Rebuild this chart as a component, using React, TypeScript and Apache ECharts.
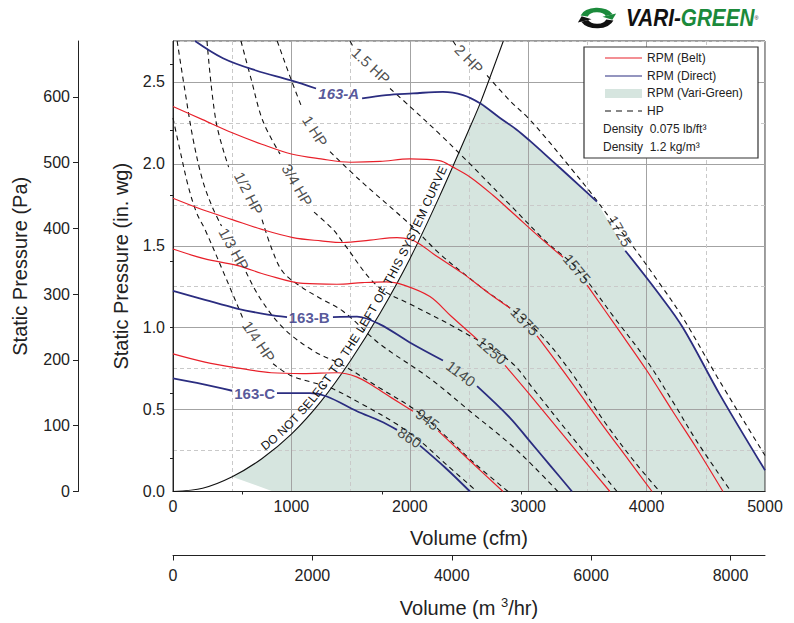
import React, { useEffect, useRef } from 'react';
import * as echarts from 'echarts';

const FONT = '"Liberation Sans", Arial, Helvetica, sans-serif';

// ---------- axes ----------
const CFM_MAX = 5000;
const INWG_MAX = 2.75;
const PA_PER_INWG = 249.089;
const M3H_PER_CFM = 1.69901;
const PA_MAX = INWG_MAX * PA_PER_INWG;
const M3_MAX = CFM_MAX * M3H_PER_CFM;
const inwgLabels = [0, 0.5, 1, 1.5, 2, 2.5];
const paLabels = [0, 100, 200, 300, 400, 500, 600];
const paMinorTicks = [50, 150, 250, 350, 450, 550, 650];
const m3Labels = [0, 2000, 4000, 6000, 8000];
const m3MinorTicks = [1000, 3000, 5000, 7000];

type Pt = [number, number] | null;

// ---------- belt drive RPM curves (cfm, in. wg); null = gap for the label ----------
const belt1575: Pt[] = [[0, 2.35], [250, 2.27], [500, 2.19], [750, 2.12], [1000, 2.06], [1250, 2.03], [1500, 2.01], [1750, 2.015], [2000, 2.03], [2250, 2.02], [2365, 1.98], [2508, 1.92], [2700, 1.81], [2870, 1.7], [3100, 1.55], [3294, 1.43], null, [3497, 1.26], [3750, 1.0], [4000, 0.74], [4220, 0.49], [4430, 0.255], [4645, 0]];
const belt1375: Pt[] = [[0, 1.79], [250, 1.72], [500, 1.66], [750, 1.6], [1013, 1.55], [1250, 1.53], [1436, 1.52], [1664, 1.535], [1892, 1.55], [2000, 1.54], [2086, 1.51], [2200, 1.45], [2450, 1.33], [2650, 1.22], [2846, 1.12], null, [3074, 0.95], [3317, 0.715], [3623, 0.41], [3850, 0.19], [4046, 0]];
const belt1250: Pt[] = [[0, 1.48], [270, 1.42], [540, 1.38], [800, 1.32], [1098, 1.27], [1385, 1.265], [1600, 1.275], [1800, 1.28], [1950, 1.26], [2170, 1.19], [2350, 1.07], [2568, 0.93], null, [2804, 0.77], [3015, 0.59], [3294, 0.345], [3500, 0.165], [3690, 0]];
const belt945: Pt[] = [[0, 0.84], [270, 0.79], [540, 0.755], [830, 0.725], [1098, 0.72], [1385, 0.725], [1550, 0.7], [1700, 0.64], [1850, 0.57], [2027, 0.49], null, [2240, 0.37], [2490, 0.2], [2787, 0]];

// ---------- direct drive RPM curves ----------
const direct1725: Pt[] = [[186, 2.75], [422, 2.645], [701, 2.57], [997, 2.51], [1208, 2.46], null, [1597, 2.4], [1800, 2.42], [2027, 2.43], [2280, 2.44], [2450, 2.42], [2593, 2.37], [2762, 2.28], [2900, 2.21], [3015, 2.14], [3200, 2.02], [3353, 1.92], [3580, 1.77], null, [3820, 1.47], [4100, 1.21], [4307, 1.0], [4620, 0.59], [5000, 0.13]];
const direct1140: Pt[] = [[0, 1.225], [270, 1.17], [540, 1.117], [800, 1.08], [963, 1.065], null, [1351, 1.065], [1554, 1.068], [1748, 1.02], [2000, 0.91], [2280, 0.8], null, [2568, 0.643], [2846, 0.45], [3004, 0.315], [3190, 0.155], [3370, 0]];
const direct860: Pt[] = [[0, 0.69], [250, 0.655], [500, 0.615], null, [878, 0.6], [1157, 0.6], [1300, 0.58], [1554, 0.49], [1750, 0.43], [1892, 0.376], null, [2086, 0.28], [2300, 0.145], [2508, 0]];

// ---------- horsepower curves ----------
const hp1_4: Pt[] = [[0, 2.28], [60, 2.08], [130, 1.86], [200, 1.7], [270, 1.6], [431, 1.33], [591, 1.056], null, [845, 0.78], [988, 0.71], [1182, 0.665], [1326, 0.635], [1605, 0.53], [1892, 0.41], [2100, 0.3], [2300, 0.17], [2568, 0]];
const hp1_3: Pt[] = [[35, 2.75], [100, 2.45], [170, 2.15], [250, 1.9], [330, 1.74], [410, 1.62], null, [617, 1.34], [735, 1.18], [929, 1.0], [1182, 0.86], [1436, 0.77], [1750, 0.63], [2061, 0.49], [2300, 0.34], [2550, 0.17], [2830, 0]];
const hp1_2: Pt[] = [[287, 2.75], [363, 2.26], [470, 1.98], null, [752, 1.66], [840, 1.47], [929, 1.34], [1080, 1.25], [1242, 1.18], [1436, 1.1], [1748, 0.9], [2170, 0.69], [2508, 0.49], [2846, 0.29], [3050, 0.15], [3250, 0]];
const hp3_4: Pt[] = [[574, 2.75], [659, 2.52], [760, 2.26], [904, 2.06], null, [1191, 1.705], [1351, 1.6], [1436, 1.52], [1723, 1.256], [2027, 1.135], [2399, 0.995], [2846, 0.795], [3050, 0.62], [3350, 0.35], [3750, 0]];
const hp1: Pt[] = [[880, 2.75], [1005, 2.5], [1080, 2.36], null, [1326, 2.075], [1579, 1.9], [2002, 1.63], [2255, 1.45], [2508, 1.3], [2652, 1.22], [2846, 1.12], [3100, 0.96], [3350, 0.74], [3650, 0.42], [3900, 0.18], [4110, 0]];
const hp1_5: Pt[] = [[1495, 2.75], [1525, 2.71], null, [1833, 2.46], [2002, 2.35], [2255, 2.18], [2508, 2.0], [2846, 1.75], [3159, 1.52], [3400, 1.37], [3750, 1.04], [4000, 0.8], [4220, 0.55], [4430, 0.3], [4713, 0]];
const hp2: Pt[] = [[2365, 2.75], [2392, 2.72], null, [2652, 2.54], [2846, 2.385], [3000, 2.28], [3159, 2.15], [3353, 1.98], [3522, 1.83], [3700, 1.66], [3860, 1.52], [4100, 1.28], [4307, 1.06], [4620, 0.67], [5000, 0.22]];

// ---------- system curve & Vari-Green region ----------
const sysCurve: [number, number][] = [[0, 0], [250, 0.02], [500, 0.09], [750, 0.2], [1000, 0.35], [1250, 0.55], [1500, 0.8], [1750, 1.09], [2000, 1.42], [2250, 1.8], [2500, 2.21], [2600, 2.38], [2790, 2.75]];
const vgStartX = 500;
const vgJoinX = 2600;
const vgCorner: [number, number] = [845, 0];
const sysText = 'DO NOT SELECT TO THE LEFT OF THIS SYSTEM CURVE';
const sysTextSpan = [800, 2350];

// ---------- curve labels: [text, cfm, in.wg, rotation] ----------
const rpmLabels: [string, number, number, number][] = [
  ['1725', 3775, 1.59, -60], ['1575', 3412, 1.36, -50], ['1375', 2973, 1.04, -46],
  ['1250', 2694, 0.86, -41], ['1140', 2432, 0.72, -37], ['945', 2150, 0.44, -37], ['860', 2000, 0.33, -34],
];
const modelLabels: [string, number, number, string][] = [
  ['163-A', 1400, 2.43, 'italic'], ['163-B', 1150, 1.06, 'normal'], ['163-C', 690, 0.6, 'normal'],
];
const hpLabels: [string, number, number, number][] = [
  ['1/4 HP', 726, 0.916, -56], ['1/3 HP', 515, 1.48, -61], ['1/2 HP', 640, 1.82, -63],
  ['3/4 HP', 1050, 1.87, -60], ['1 HP', 1200, 2.2, -57], ['1.5 HP', 1672, 2.6, -43], ['2 HP', 2500, 2.64, -46],
];

const RED = '#e8202a';
const NAVY = '#2b2d80';
const GREEN = '#1b8a3b';

const toLine = (pts: Pt[]) => pts.map((p) => (p === null ? ['-', '-'] : p));

function lineSeries(name: string, pts: Pt[], color: string, width: number, dashed = false) {
  return {
    type: 'line', name, data: toLine(pts), smooth: 0.35, showSymbol: false, symbol: 'none',
    connectNulls: false, silent: true, z: dashed ? 2 : 3,
    lineStyle: { color, width, type: dashed ? [5, 4] : 'solid' },
    xAxisIndex: 0, yAxisIndex: 0,
  };
}

function catmull(p0: number[], p1: number[], p2: number[], p3: number[], t: number) {
  const t2 = t * t, t3 = t2 * t;
  const f = (a: number, b: number, c: number, d: number) =>
    0.5 * (2 * b + (-a + c) * t + (2 * a - 5 * b + 4 * c - d) * t2 + (-a + 3 * b - 3 * c + d) * t3);
  return [f(p0[0], p1[0], p2[0], p3[0]), f(p0[1], p1[1], p2[1], p3[1])];
}

let measureCtx: CanvasRenderingContext2D | null = null;
const plain = (v: number) => String(v);

function buildOption() {
  const vgPolygon: [number, number][] = [
    ...sysCurve.filter((p) => p[0] >= vgStartX && p[0] <= vgJoinX),
    ...(direct1725.filter((p) => p !== null && p[0] > vgJoinX) as [number, number][]),
    [CFM_MAX, 0],
    vgCorner,
  ];

  const labelData: any[] = [];
  rpmLabels.forEach(([t, x, y, r]) =>
    labelData.push({ value: [x, y], label: { show: true, formatter: t, rotate: r, fontSize: 15, color: '#222' } }));
  modelLabels.forEach(([t, x, y, st]) =>
    labelData.push({ value: [x, y], label: { show: true, formatter: t, rotate: 0, fontSize: 15, fontWeight: 'bold', fontStyle: st, color: NAVY } }));
  hpLabels.forEach(([t, x, y, r]) =>
    labelData.push({ value: [x, y], label: { show: true, formatter: t, rotate: r, fontSize: 15, color: '#222' } }));

  const sysTextSeries = {
    type: 'custom', silent: true, z: 6, data: [[0, 0]], xAxisIndex: 0, yAxisIndex: 0,
    renderItem: (params: any, api: any) => {
      if (params.dataIndex !== 0) return null;
      const P = sysCurve.map((p) => api.coord(p));
      const D: number[][] = [];
      for (let i = 0; i < P.length - 1; i++) {
        const p0 = P[Math.max(0, i - 1)], p1 = P[i], p2 = P[i + 1], p3 = P[Math.min(P.length - 1, i + 2)];
        for (let k = 0; k < 24; k++) D.push(catmull(p0, p1, p2, p3, k / 24));
      }
      D.push(P[P.length - 1]);
      const cum = [0];
      for (let i = 1; i < D.length; i++) cum.push(cum[i - 1] + Math.hypot(D[i][0] - D[i - 1][0], D[i][1] - D[i - 1][1]));
      const sAtX = (px: number) => {
        for (let i = 1; i < D.length; i++) {
          if (D[i][0] >= px) {
            const f = (px - D[i - 1][0]) / (D[i][0] - D[i - 1][0] || 1);
            return cum[i - 1] + f * (cum[i] - cum[i - 1]);
          }
        }
        return cum[cum.length - 1];
      };
      const pointAt = (s: number) => {
        let i = 1;
        while (i < cum.length - 1 && cum[i] < s) i++;
        const seg = cum[i] - cum[i - 1] || 1;
        const f = (s - cum[i - 1]) / seg;
        const dx = D[i][0] - D[i - 1][0], dy = D[i][1] - D[i - 1][1];
        const len = Math.hypot(dx, dy) || 1;
        return { x: D[i - 1][0] + f * dx, y: D[i - 1][1] + f * dy, tx: dx / len, ty: dy / len };
      };
      const s0 = sAtX(api.coord([sysTextSpan[0], 0])[0]);
      const s1 = sAtX(api.coord([sysTextSpan[1], 0])[0]);
      const fs = 12;
      if (!measureCtx) measureCtx = document.createElement('canvas').getContext('2d');
      const ctx = measureCtx!;
      ctx.font = `${fs}px "Liberation Sans"`;
      const chars = sysText.split('');
      const ws = chars.map((c) => ctx.measureText(c).width);
      const total = ws.reduce((a, b) => a + b, 0);
      const gap = (s1 - s0 - total) / (chars.length - 1);
      let s = s0;
      const children: any[] = [];
      chars.forEach((c, i) => {
        const mid = s + ws[i] / 2;
        const p = pointAt(mid);
        const ang = Math.atan2(-p.ty, p.tx);
        const nx = p.ty, ny = -p.tx;
        const off = 8.5;
        if (c !== ' ') {
          children.push({
            type: 'text', x: p.x + nx * off, y: p.y + ny * off, rotation: ang,
            style: { text: c, fontSize: fs, fontFamily: FONT, fill: '#111', align: 'center', verticalAlign: 'middle' },
          });
        }
        s += ws[i] + gap;
      });
      return { type: 'group', children };
    },
  };

  const vgSeries = {
    type: 'custom', silent: true, z: -1, data: [[0, 0]], xAxisIndex: 0, yAxisIndex: 0,
    renderItem: (params: any, api: any) => {
      if (params.dataIndex !== 0) return null;
      return {
        type: 'polygon',
        shape: { points: vgPolygon.map((p) => api.coord(p)) },
        style: { fill: '#d6e5df', stroke: 'none' },
      };
    },
  };

  const axisText = { fontSize: 16, color: '#222', fontFamily: FONT };
  const nameText = { fontSize: 20, color: '#222', fontFamily: FONT };

  return {
    animation: false,
    textStyle: { fontFamily: FONT },
    grid: { left: 173, right: 29, top: 41, bottom: 129, show: true, borderColor: '#333', borderWidth: 1, backgroundColor: 'transparent' },
    xAxis: [
      {
        type: 'value', min: 0, max: CFM_MAX, interval: 1000, position: 'bottom',
        axisLine: { show: true, onZero: false, lineStyle: { color: '#222' } },
        axisTick: { show: false },
        axisLabel: { ...axisText, margin: 7, formatter: plain },
        splitLine: { show: true, lineStyle: { color: '#a3a3a3', width: 1 } },
        name: 'Volume (cfm)', nameLocation: 'middle', nameGap: 36, nameTextStyle: nameText,
      },
      {
        type: 'value', min: 0, max: CFM_MAX, interval: 500, position: 'bottom',
        axisLine: { show: false }, axisTick: { show: false }, axisLabel: { show: false },
        splitLine: { show: true, lineStyle: { color: ['rgba(0,0,0,0)', '#c9c9c9'], type: [4, 3], width: 1 } },
      },
      {
        type: 'value', min: 0, max: M3_MAX, position: 'bottom', offset: 64,
        axisLine: { show: true, onZero: false, lineStyle: { color: '#222' } },
        axisTick: { show: true, customValues: m3Labels, length: 5, lineStyle: { color: '#222' } },
        axisLabel: { ...axisText, customValues: m3Labels, margin: 12, formatter: plain },
        splitLine: { show: false },
        name: 'Volume (m {s|3}/hr)', nameLocation: 'middle', nameGap: 40,
        nameTextStyle: { ...nameText, rich: { s: { fontSize: 13, color: '#222', padding: [0, 0, 12, 0], fontFamily: FONT } } },
      },
      {
        type: 'value', min: 0, max: M3_MAX, position: 'bottom', offset: 64,
        axisLine: { show: false },
        axisTick: { show: true, customValues: m3MinorTicks, length: 3, lineStyle: { color: '#222' } },
        axisLabel: { show: false }, splitLine: { show: false },
      },
    ],
    yAxis: [
      {
        type: 'value', min: 0, max: INWG_MAX, interval: 0.5, position: 'left',
        axisLine: { show: true, onZero: false, lineStyle: { color: '#222' } },
        axisTick: { show: false },
        axisLabel: { ...axisText, customValues: inwgLabels, margin: 8, formatter: (v: number) => v.toFixed(1) },
        splitLine: { show: true, lineStyle: { color: '#a3a3a3', width: 1 } },
        name: 'Static Pressure (in. wg)', nameLocation: 'middle', nameGap: 42, nameTextStyle: nameText,
      },
      {
        type: 'value', min: 0, max: INWG_MAX, interval: 0.25, position: 'left',
        axisLine: { show: false }, axisTick: { show: false }, axisLabel: { show: false },
        splitLine: { show: true, lineStyle: { color: ['rgba(0,0,0,0)', '#c9c9c9'], type: [4, 3], width: 1 } },
      },
      {
        type: 'value', min: 0, max: PA_MAX, position: 'left', offset: 95,
        axisLine: { show: true, onZero: false, lineStyle: { color: '#222' } },
        axisTick: { show: true, customValues: paLabels, length: 5, lineStyle: { color: '#222' } },
        axisLabel: { ...axisText, customValues: paLabels, margin: 8, formatter: plain },
        splitLine: { show: false },
        name: 'Static Pressure (Pa)', nameLocation: 'middle', nameGap: 48, nameTextStyle: nameText,
      },
      {
        type: 'value', min: 0, max: PA_MAX, position: 'left', offset: 95,
        axisLine: { show: false },
        axisTick: { show: true, customValues: paMinorTicks, length: 3, lineStyle: { color: '#222' } },
        axisLabel: { show: false }, splitLine: { show: false },
      },
    ],
    series: [
      vgSeries,
      lineSeries('1/4 HP', hp1_4, '#111', 1.1, true),
      lineSeries('1/3 HP', hp1_3, '#111', 1.1, true),
      lineSeries('1/2 HP', hp1_2, '#111', 1.1, true),
      lineSeries('3/4 HP', hp3_4, '#111', 1.1, true),
      lineSeries('1 HP', hp1, '#111', 1.1, true),
      lineSeries('1.5 HP', hp1_5, '#111', 1.1, true),
      lineSeries('2 HP', hp2, '#111', 1.1, true),
      { ...lineSeries('System curve', sysCurve, '#111', 1.1), smooth: 0.3 },
      lineSeries('1575', belt1575, RED, 1.2),
      lineSeries('1375', belt1375, RED, 1.2),
      lineSeries('1250', belt1250, RED, 1.2),
      lineSeries('945', belt945, RED, 1.2),
      lineSeries('1725', direct1725, NAVY, 1.8),
      lineSeries('1140', direct1140, NAVY, 1.8),
      lineSeries('860', direct860, NAVY, 1.8),
      {
        type: 'scatter', data: labelData, symbolSize: 1, silent: true, z: 5,
        itemStyle: { color: 'rgba(0,0,0,0)' },
        label: { show: true, position: 'inside', fontFamily: FONT },
        xAxisIndex: 0, yAxisIndex: 0,
      },
      sysTextSeries,
    ],
    graphic: [
      // logo
      {
        type: 'group', x: 597, y: 18, scaleX: 1.65, children: [
          { type: 'arc', shape: { cx: 0, cy: 0, r: 8, startAngle: Math.PI * 1.08, endAngle: Math.PI * 1.88, clockwise: true }, style: { stroke: GREEN, lineWidth: 4.5, fill: 'none' } },
          { type: 'polygon', shape: { points: [[9.3, 1.7], [11.6, -4.6], [3.3, -1.3]] }, style: { fill: GREEN } },
          { type: 'arc', shape: { cx: 0, cy: 0, r: 8, startAngle: Math.PI * 0.08, endAngle: Math.PI * 0.88, clockwise: true }, style: { stroke: '#111', lineWidth: 4.5, fill: 'none' } },
          { type: 'polygon', shape: { points: [[-9.3, -1.7], [-11.6, 4.6], [-3.3, 1.3]] }, style: { fill: '#111' } },
        ],
      },
      {
        type: 'text', x: 626, y: 18, scaleX: 0.9,
        style: {
          text: '{a|VARI-}{b|GREEN}{r|®}', verticalAlign: 'middle',
          rich: {
            a: { fill: '#111', fontSize: 23, fontWeight: 'bold', fontStyle: 'italic', fontFamily: FONT },
            b: { fill: GREEN, fontSize: 23, fontWeight: 'bold', fontStyle: 'italic', fontFamily: FONT },
            r: { fill: '#111', fontSize: 6, fontFamily: FONT },
          },
        },
      },
      // legend
      { type: 'rect', shape: { x: 584, y: 47, width: 174, height: 111 }, style: { fill: '#fff', stroke: '#333', lineWidth: 1.2 }, z: 10 },
      { type: 'line', shape: { x1: 605, y1: 58, x2: 642, y2: 58 }, style: { stroke: RED, lineWidth: 1.2 }, z: 11 },
      { type: 'line', shape: { x1: 605, y1: 76, x2: 642, y2: 76 }, style: { stroke: NAVY, lineWidth: 1.2 }, z: 11 },
      { type: 'rect', shape: { x: 605, y: 89, width: 37, height: 9 }, style: { fill: '#d6e5df' }, z: 11 },
      { type: 'line', shape: { x1: 605, y1: 111, x2: 642, y2: 111 }, style: { stroke: '#111', lineWidth: 1.2, lineDash: [6, 5] }, z: 11 },
      { type: 'text', x: 647, y: 58, z: 11, style: { text: 'RPM (Belt)', fontSize: 12, fontFamily: FONT, fill: '#222', verticalAlign: 'middle' } },
      { type: 'text', x: 647, y: 76, z: 11, style: { text: 'RPM (Direct)', fontSize: 12, fontFamily: FONT, fill: '#222', verticalAlign: 'middle' } },
      { type: 'text', x: 647, y: 93, z: 11, style: { text: 'RPM (Vari-Green)', fontSize: 12, fontFamily: FONT, fill: '#222', verticalAlign: 'middle' } },
      { type: 'text', x: 647, y: 111, z: 11, style: { text: 'HP', fontSize: 12, fontFamily: FONT, fill: '#222', verticalAlign: 'middle' } },
      { type: 'text', x: 603, y: 129, z: 11, style: { text: 'Density  0.075 lb/ft³', fontSize: 12, fontFamily: FONT, fill: '#222', verticalAlign: 'middle' } },
      { type: 'text', x: 603, y: 147, z: 11, style: { text: 'Density  1.2 kg/m³', fontSize: 12, fontFamily: FONT, fill: '#222', verticalAlign: 'middle' } },
    ],
  };
}

export default function App() {
  const ref = useRef<HTMLDivElement>(null);
  useEffect(() => {
    const chart = echarts.init(ref.current!, null, { renderer: 'svg' });
    chart.setOption(buildOption() as any);
    return () => chart.dispose();
  }, []);
  return <div ref={ref} style={{ position: 'fixed', left: 0, top: 0, width: 794, height: 623, background: '#fff' }} />;
}
